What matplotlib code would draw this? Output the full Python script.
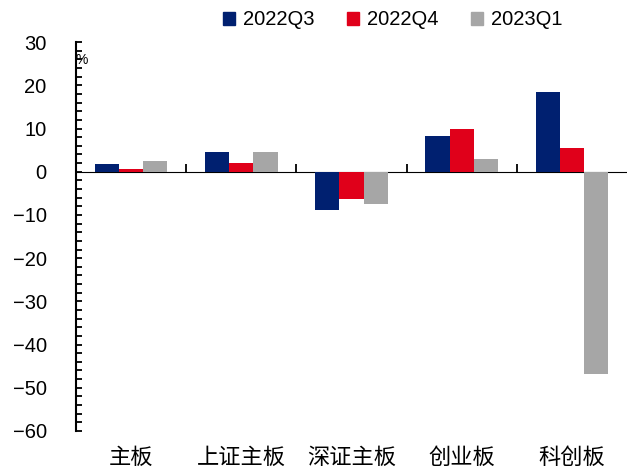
import matplotlib.pyplot as plt
import numpy as np
from matplotlib.patches import Patch

# 各板块收益变化(%)
boards = ["主板", "上证主板", "深证主板", "创业板", "科创板"]
q3_2022 = [1.9, 4.5, -8.8, 8.3, 18.5]
q4_2022 = [0.6, 2.0, -6.4, 10.0, 5.6]
q1_2023 = [2.5, 4.6, -7.5, 3.0, -46.8]
series_names = ["2022Q3", "2022Q4", "2023Q1"]
colors = ["#002070", "#E0001A", "#A6A6A6"]

plt.rcParams['font.family'] = ['Liberation Sans', 'Noto Sans CJK SC', 'DejaVu Sans']

fig = plt.figure(figsize=(6.27, 4.71), dpi=100)
ax = fig.add_axes([0.121, 0.085, 0.879, 0.8255])

x = np.arange(len(boards))
w = 0.22
for i, (vals, c) in enumerate(zip([q3_2022, q4_2022, q1_2023], colors)):
    ax.bar(x + (i - 1) * w, vals, width=w, color=c, zorder=2)

ax.set_xlim(-0.5, len(boards) - 0.5)
ax.set_ylim(-60, 30)
ax.set_yticks(np.arange(-60, 31, 10))
ax.set_yticks(np.arange(-60, 31, 2), minor=True)
ax.tick_params(axis='y', which='both', direction='in', length=4, width=1.3, labelsize=14.5, pad=21)

for s in ['top', 'right', 'bottom']:
    ax.spines[s].set_visible(False)
ax.spines['left'].set_linewidth(1.5)

# 类别标签放在底部
ax.set_xticks(x)
ax.set_xticklabels(boards, fontsize=16, family=['Noto Sans CJK SC'])
ax.tick_params(axis='x', length=0, pad=11)

# 零轴及分隔刻度
zero_pos = (0 - ax.get_ylim()[0]) / (ax.get_ylim()[1] - ax.get_ylim()[0])
sec = ax.secondary_xaxis(zero_pos)
sec.set_xticks(x[:-1] + 0.5)
sec.set_xticklabels([])
sec.tick_params(direction='out', length=6, width=1.3)
sec.spines['bottom'].set_linewidth(1.5)

ax.text(0.0, 0.955, "%", transform=ax.transAxes, fontsize=10, ha='left', va='center')

handles = [Patch(color=c) for c in colors]
fig.legend(handles, series_names, loc='center', bbox_to_anchor=(0.626, 0.958), ncol=3,
           frameon=False, fontsize=14.5, handlelength=0.6, handleheight=0.6,
           handletextpad=0.4, columnspacing=1.6)

fig.savefig("out.png", dpi=100)
